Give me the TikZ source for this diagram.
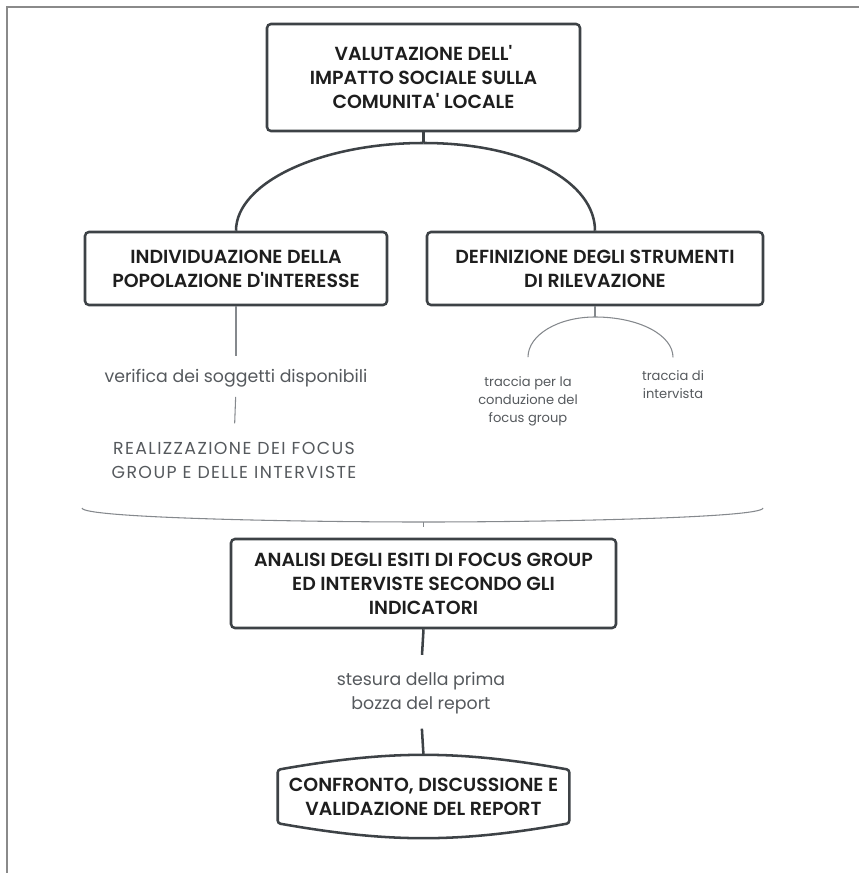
\documentclass[tikz,border=0pt]{standalone}
\usepackage{fontspec}
\setmainfont{Poppins}[Ligatures=TeXOff, BoldFont={Poppins SemiBold}]
\newfontfamily\capsfont{Poppins}[Ligatures=TeXOff, LetterSpace=8]
\definecolor{boxline}{HTML}{3D4246}
\definecolor{boxtext}{HTML}{1E1E1E}
\definecolor{labeltext}{HTML}{55595D}
\definecolor{thinline}{HTML}{85898D}
\definecolor{framegray}{HTML}{8A8A8A}
\begin{document}
\begin{tikzpicture}[x=0.75pt, y=-0.75pt,
        box/.style={draw=boxline, line width=1.9pt, rounded corners=3pt, fill=white,
            align=center, text=boxtext, inner sep=0pt,
            font=\bfseries\fontsize{14.2}{18}\selectfont},
        endbox/.style={align=center, text=boxtext, inner sep=0pt,
            minimum width=218.25pt, minimum height=60.75pt,
            font=\bfseries\fontsize{14.2}{18}\selectfont},
        link/.style={draw=boxline, line width=1.9pt},
        thinlink/.style={draw=thinline, line width=0.8pt},
        note/.style={align=center, text=labeltext, inner sep=0pt,
            font=\fontsize{13}{17.5}\selectfont},
        smallnote/.style={align=center, text=labeltext, inner sep=0pt,
            font=\fontsize{9.8}{13.5}\selectfont}
    ]
    \useasboundingbox (0,0) rectangle (859,873);
    \draw[framegray, line width=1.5pt] (7,873) -- (7,7) -- (859,7);

    % main boxes
    \node[box, minimum width=234.75pt, minimum height=80.25pt] (valut) at (423.5,77.5)
        {VALUTAZIONE DELL'\\IMPATTO SOCIALE SULLA\\COMUNITA' LOCALE};
    \node[box, minimum width=226.5pt, minimum height=54.75pt] (popol) at (236,268.5)
        {INDIVIDUAZIONE DELLA\\POPOLAZIONE D'INTERESSE};
    \node[box, minimum width=252pt, minimum height=54.75pt] (strum) at (595,268.5)
        {DEFINIZIONE DEGLI STRUMENTI\\DI RILEVAZIONE};
    \node[box, minimum width=288.75pt, minimum height=66.75pt] (anal) at (423.5,583.5)
        {ANALISI DEGLI ESITI DI FOCUS GROUP\\ED INTERVISTE SECONDO GLI\\INDICATORI};
    \node[endbox] (valid) at (423.5,796.5)
        {CONFRONTO, DISCUSSIONE E\\VALIDAZIONE DEL REPORT};
    \draw[link, rounded corners=2pt] ([yshift=-10.5pt]valid.north west) to[bend left=10]
        ([yshift=-10.5pt]valid.north east) -- ([yshift=10.5pt]valid.south east) to[bend left=10]
        ([yshift=10.5pt]valid.south west) -- cycle;

    % labels
    \node[note] (verif) at (236,378) {verifica dei soggetti disponibili};
    \node[note, font=\capsfont\fontsize{13}{18}\selectfont] (realiz) at (234,460)
        {REALIZZAZIONE DEI FOCUS\\GROUP E DELLE INTERVISTE};
    \node[smallnote] (tfocus) at (528,401.5) {traccia per la\\conduzione del\\focus group};
    \node[smallnote] (tintv) at (673,385) {traccia di\\intervista};
    \node[note] (stes) at (421,693) {stesura della prima\\bozza del report};

    % connectors
    \coordinate (fork1) at (423.5,143);
    \coordinate (fork2) at (595,317);
    \draw[link] (valut.south) -- (fork1);
    \draw[link] (fork1) .. controls (320,143) and (236,183) .. (popol.north);
    \draw[link] (fork1) .. controls (527,143) and (595,183) .. (strum.north);

    \draw[thinlink, shorten >=9.5pt] (popol.south) -- (verif.north);
    \draw[thinlink, shorten <=7.25pt, shorten >=13.6pt] (verif.south) -- (realiz.north);

    \draw[thinlink] (strum.south) -- (fork2);
    \draw[thinlink, shorten >=14.5pt] (fork2) .. controls (558,317) and (528,335) .. (tfocus.north);
    \draw[thinlink, shorten >=10pt] (fork2) .. controls (639,317) and (673,335) .. (tintv.north);

    \coordinate (bleft) at (82,508);
    \coordinate (bmid) at (423.5,522);
    \coordinate (bright) at (763,508);
    \draw[thinlink] (bleft) .. controls (82,518) and (300,522) .. (bmid)
        .. controls (547,522) and (763,518) .. (bright);
    \draw[thinlink, shorten >=8.25pt] (bmid) -- (anal.north);

    \draw[link, shorten >=13pt] (anal.south) -- (stes.north);
    \draw[link, shorten <=11.2pt] (stes.south) -- (valid.north);
\end{tikzpicture}
\end{document}
